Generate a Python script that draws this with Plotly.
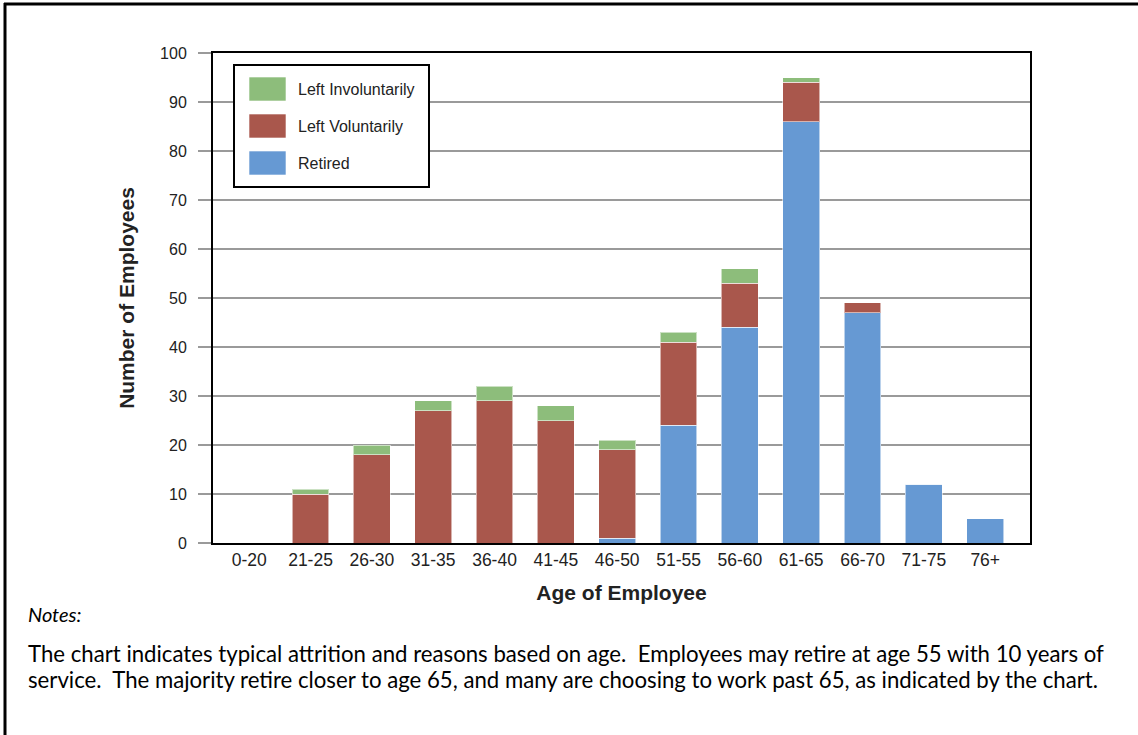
import plotly.graph_objects as go

# age bands and stacked counts (bottom to top: retired, voluntary, involuntary)
age_bands = ["0-20", "21-25", "26-30", "31-35", "36-40", "41-45", "46-50",
             "51-55", "56-60", "61-65", "66-70", "71-75", "76+"]
retired = [0, 0, 0, 0, 0, 0, 1, 24, 44, 86, 47, 12, 5]
left_voluntarily = [0, 10, 18, 27, 29, 25, 18, 17, 9, 8, 2, 0, 0]
left_involuntarily = [0, 1, 2, 2, 3, 3, 2, 2, 3, 1, 0, 0, 0]

y_ticks = [0, 10, 20, 30, 40, 50, 60, 70, 80, 90, 100]

notes_lines = [
    "The chart indicates typical attrition and reasons based on age.  Employees may retire at age 55 with 10 years of",
    "service.  The majority retire closer to age 65, and many are choosing to work past 65, as indicated by the chart.",
]

BLUE = "#6699d3"
RED = "#a9574c"
GREEN = "#8dbd7b"
FONT = "Liberation Sans, Arial, sans-serif"
NOTE_FONT = "Lato, sans-serif"

W, H = 1138, 735
L, R, T, B = 213, 108, 53, 192


def px(x):
    return (x - L) / (W - L - R)


def py(y):
    return (H - B - y) / (H - T - B)


fig = go.Figure()
for name, vals, col in [("Retired", retired, BLUE),
                        ("Left Voluntarily", left_voluntarily, RED),
                        ("Left Involuntarily", left_involuntarily, GREEN)]:
    fig.add_trace(go.Bar(
        x=age_bands, y=vals, name=name,
        marker=dict(color=col, line=dict(color="rgba(255,255,255,0.55)", width=1)),
        hoverinfo="x+y+name"
    ))

shapes = []
annotations = []

# outer frame (only top and left edges are visible)
shapes.append(dict(type="line", xref="paper", yref="paper",
                   x0=px(4), x1=px(W + 5), y0=py(4), y1=py(4),
                   line=dict(color="black", width=3)))
shapes.append(dict(type="line", xref="paper", yref="paper",
                   x0=px(5), x1=px(5), y0=py(3), y1=py(H + 5),
                   line=dict(color="black", width=3)))

# legend box drawn by hand so the swatches are the right size
shapes.append(dict(type="rect", xref="paper", yref="paper",
                   x0=px(234), x1=px(429), y0=py(65), y1=py(187),
                   fillcolor="white", line=dict(color="black", width=2), layer="above"))
for i, (name, col) in enumerate([("Left Involuntarily", GREEN),
                                 ("Left Voluntarily", RED),
                                 ("Retired", BLUE)]):
    cy = 89 + i * 37
    shapes.append(dict(type="rect", xref="paper", yref="paper",
                       x0=px(249), x1=px(286), y0=py(cy - 12), y1=py(cy + 12),
                       fillcolor=col, line=dict(color="rgba(255,255,255,0.6)", width=1),
                       layer="above"))
    annotations.append(dict(text=name, xref="paper", yref="paper",
                            x=px(296), y=py(cy), xanchor="left", yanchor="middle",
                            showarrow=False, font=dict(family=FONT, size=16, color="#222")))

# notes under the chart
annotations.append(dict(text="<i>Notes:</i>", xref="paper", yref="paper",
                        x=px(26), y=py(614), xanchor="left", yanchor="middle",
                        showarrow=False, font=dict(family=NOTE_FONT, size=20, color="black")))
for i, line in enumerate(notes_lines):
    annotations.append(dict(
        text=line, xref="paper", yref="paper", x=px(26), y=py(653 + i * 26),
        xanchor="left", yanchor="middle", align="left", showarrow=False,
        font=dict(family=NOTE_FONT, size=22.2, color="black")))

fig.update_layout(
    barmode="stack", bargap=0.4,
    width=W, height=H,
    margin=dict(l=L, r=R, t=T, b=B),
    paper_bgcolor="white", plot_bgcolor="white",
    showlegend=False,
    font=dict(family=FONT, color="#222"),
    shapes=shapes, annotations=annotations,
    xaxis=dict(
        range=[-0.59, 12.73],
        showgrid=False, ticks="", tickfont=dict(size=17.5, color="#222"),
        showline=True, linecolor="black", linewidth=2, mirror=True,
        title=dict(text="<b>Age of Employee</b>", font=dict(size=21, color="#222"), standoff=16),
    ),
    yaxis=dict(
        range=[0, 100], tickvals=y_ticks,
        showgrid=True, gridcolor="#9a9a9a", gridwidth=2,
        ticks="outside", ticklen=13, tickcolor="#9a9a9a", tickwidth=2,
        ticklabelstandoff=8,
        tickfont=dict(size=16, color="#222"),
        showline=True, linecolor="black", linewidth=2, mirror=True,
        zeroline=False,
        title=dict(text="<b>Number of Employees</b>", font=dict(size=21, color="#222"), standoff=20),
    ),
)

fig.write_html("out.html", config={"displayModeBar": False},
               post_script="document.body.style.margin='0px';")
